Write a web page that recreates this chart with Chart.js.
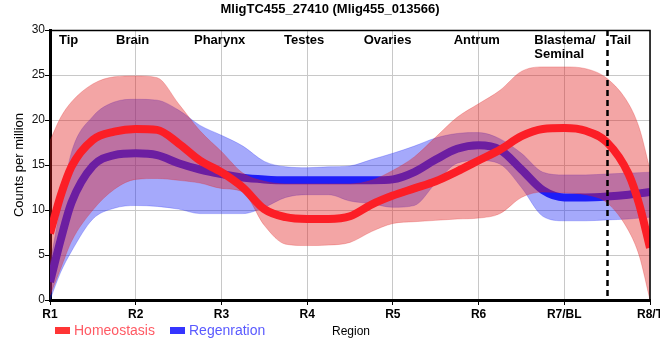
<!DOCTYPE html>
<html>
<head>
<meta charset="utf-8">
<script src="https://cdn.jsdelivr.net/npm/chart.js@4/dist/chart.umd.min.js"></script>
<style>
html,body{margin:0;padding:0;background:#fff;overflow:hidden;}
#wrap{width:660px;height:360px;position:relative;}
</style>
</head>
<body>
<div id="wrap"><canvas id="c" width="660" height="360"></canvas></div>
<script>
const chartTitle = 'MligTC455_27410 (Mlig455_013566)';
const tickLabels = ['R1','R2','R3','R4','R5','R6','R7/BL','R8/T'];
const regionNames = ['Tip','Brain','Pharynx','Testes','Ovaries','Antrum','Blastema/\nSeminal','Tail'];
const regionLabelX = [1.105,1.77,2.68,3.73,4.66,5.71,6.65,7.53];
const dividerX = 7.5;
const seriesNames = ['Homeostasis','Regenration'];

const xs = [1,1.125,1.25,1.5,1.75,2,2.25,2.5,2.75,3,3.25,3.5,3.75,4,4.25,4.5,4.75,5,5.25,5.5,5.75,6,6.25,6.5,6.75,7,7.25,7.5,7.75,7.875,8];

const homeoMean  = [7.4,11.6,14.8,17.8,18.7,19.0,18.9,17.4,15.5,14.2,12.5,10.1,9.2,9.0,9.0,9.3,10.6,11.6,12.4,13.2,14.3,15.5,16.7,18.2,19.0,19.1,18.8,17.5,14.0,10.6,5.8];
const homeoUpper = [17.7,20.3,22.0,24.0,24.8,24.9,24.7,21.8,18.8,16.5,14.1,13.2,12.9,12.9,12.9,12.9,13.3,14.4,15.9,18.1,20.3,21.8,23.3,25.4,25.9,25.9,25.7,24.6,21.8,19.1,14.5];
const homeoLower = [0.5,3.5,6.5,10.0,12.3,13.4,13.5,13.3,13.0,12.4,12.0,8.3,6.2,6.05,6.1,6.4,7.6,8.5,8.7,8.85,9.0,9.1,9.6,11.4,12.0,11.9,11.7,10.8,7.7,4.9,0];

const regenMean  = [2.0,6.7,10.8,14.9,16.1,16.3,16.1,15.2,14.5,14.0,13.6,13.4,13.3,13.3,13.3,13.3,13.3,13.4,14.2,15.6,16.8,17.2,16.7,14.5,12.2,11.4,11.4,11.5,11.7,11.85,12.0];
const regenUpper = [4.0,10.5,16.4,20.4,22.0,22.3,22.2,21.1,19.4,18.3,17.1,15.4,14.8,14.7,14.8,14.9,15.6,16.3,17.1,18.0,18.5,18.6,17.9,16.3,14.2,13.9,13.9,14.0,14.1,14.15,14.2];
const regenLower = [0,3.1,5.4,9.0,10.2,10.5,10.4,10.1,9.6,9.6,9.6,10.3,11.4,11.7,11.7,11.0,10.7,10.3,10.5,13.0,15.2,15.5,15.1,12.5,9.3,8.8,8.8,8.9,9.0,9.1,9.2];

const pts = arr => xs.map((x,i)=>({x:x,y:arr[i]}));

const FONT = '"Liberation Sans", Arial, sans-serif';
const RED_LINE = '#fc1e26', BLUE_LINE = '#1e1ef8';
const RED_BAND = 'rgba(225,30,30,0.4)', BLUE_BAND = 'rgba(30,40,245,0.4)';

const base = {pointRadius:0, pointHoverRadius:0, cubicInterpolationMode:'monotone'};

const decor = {
  id:'decor',
  afterDatasetsDraw(chart){
    const {ctx, chartArea:a, scales:{x,y}} = chart;
    ctx.save();
    // divider
    const dx = Math.round(x.getPixelForValue(dividerX))+0.5;
    ctx.strokeStyle = '#000'; ctx.lineWidth = 2.5; ctx.setLineDash([6,4]);
    ctx.beginPath(); ctx.moveTo(dx, a.top); ctx.lineTo(dx, a.bottom); ctx.stroke();
    ctx.setLineDash([]);
    // region names
    ctx.fillStyle = '#000'; ctx.font = 'bold 13px ' + FONT;
    ctx.textAlign = 'left'; ctx.textBaseline = 'middle';
    regionNames.forEach((n,i)=>{
      const px = x.getPixelForValue(regionLabelX[i]);
      n.split('\n').forEach((ln,j)=>ctx.fillText(ln, px, a.top + 10 + j*14));
    });
    ctx.restore();
  },
  afterDraw(chart){
    const {ctx, chartArea:a, scales:{x,y}} = chart;
    ctx.save();
    // top & right frame
    ctx.strokeStyle = '#000'; ctx.lineWidth = 1.5;
    ctx.beginPath(); ctx.moveTo(a.left, a.top+0.5); ctx.lineTo(a.right, a.top+0.5); ctx.lineTo(a.right, a.bottom); ctx.stroke();
    // title
    ctx.fillStyle = '#000'; ctx.font = 'bold 13px ' + FONT;
    ctx.textAlign = 'center'; ctx.textBaseline = 'middle';
    ctx.fillText(chartTitle, 330, 9);
    // axis titles
    ctx.font = '12px ' + FONT;
    ctx.fillText('Region', (a.left+a.right)/2 + 1, 331.5);
    ctx.save();
    ctx.translate(19, (a.top+a.bottom)/2);
    ctx.rotate(-Math.PI/2);
    ctx.font = '13px ' + FONT;
    ctx.fillText('Counts per million', 0, 0);
    ctx.restore();
    // legend
    ctx.textAlign = 'left'; ctx.font = '14px ' + FONT;
    ctx.fillStyle = '#ff3535'; ctx.fillRect(55, 327, 15, 7);
    ctx.fillStyle = '#ff5a64'; ctx.fillText(seriesNames[0], 74, 331);
    ctx.fillStyle = '#3535ff'; ctx.fillRect(170, 327, 15, 7);
    ctx.fillStyle = '#5a5aff'; ctx.fillText(seriesNames[1], 189, 331);
    ctx.restore();
  }
};

new Chart(document.getElementById('c'), {
  type:'line',
  data:{datasets:[
    Object.assign({label:seriesNames[0], data:pts(homeoMean), borderColor:RED_LINE, borderWidth:8, fill:false, order:0}, base),
    Object.assign({label:'h-up', data:pts(homeoUpper), borderColor:'rgba(225,30,30,0.25)', borderWidth:1, backgroundColor:RED_BAND, fill:{target:2}, order:1}, base),
    Object.assign({label:'h-lo', data:pts(homeoLower), borderColor:'rgba(225,30,30,0.25)', borderWidth:1, fill:false, order:1}, base),
    Object.assign({label:seriesNames[1], data:pts(regenMean), borderColor:BLUE_LINE, borderWidth:8, fill:false, order:2}, base),
    Object.assign({label:'r-up', data:pts(regenUpper), borderColor:'rgba(30,40,245,0.25)', borderWidth:1, backgroundColor:BLUE_BAND, fill:{target:5}, order:3}, base),
    Object.assign({label:'r-lo', data:pts(regenLower), borderColor:'rgba(30,40,245,0.25)', borderWidth:1, fill:false, order:3}, base)
  ]},
  options:{
    responsive:false, animation:false, devicePixelRatio:1,
    layout:{padding:{top:30, left:0, right:10, bottom:0}},
    plugins:{legend:{display:false}, title:{display:false}, tooltip:{enabled:false}},
    scales:{
      x:{type:'linear', min:1, max:8,
        afterFit(s){ s.paddingLeft = 0; s.paddingRight = 0; s.height = 60; },
        ticks:{stepSize:1, autoSkip:false, maxRotation:0, padding:2, color:'#000',
          font:{family:FONT, size:12, weight:'bold'},
          callback:(v)=>tickLabels[Math.round(v)-1]},
        grid:{color:'#c8c8c8', tickColor:'#000', tickLength:5, lineWidth:1},
        border:{color:'#000', width:3}},
      y:{min:0, max:30,
        afterFit(s){ s.width = 50; },
        ticks:{stepSize:5, padding:0, color:'#111', font:{family:FONT, size:12}},
        grid:{color:'#c8c8c8', tickColor:'#000', tickLength:5, lineWidth:1},
        border:{color:'#000', width:3}}
    }
  },
  plugins:[decor]
});
</script>
</body>
</html>
